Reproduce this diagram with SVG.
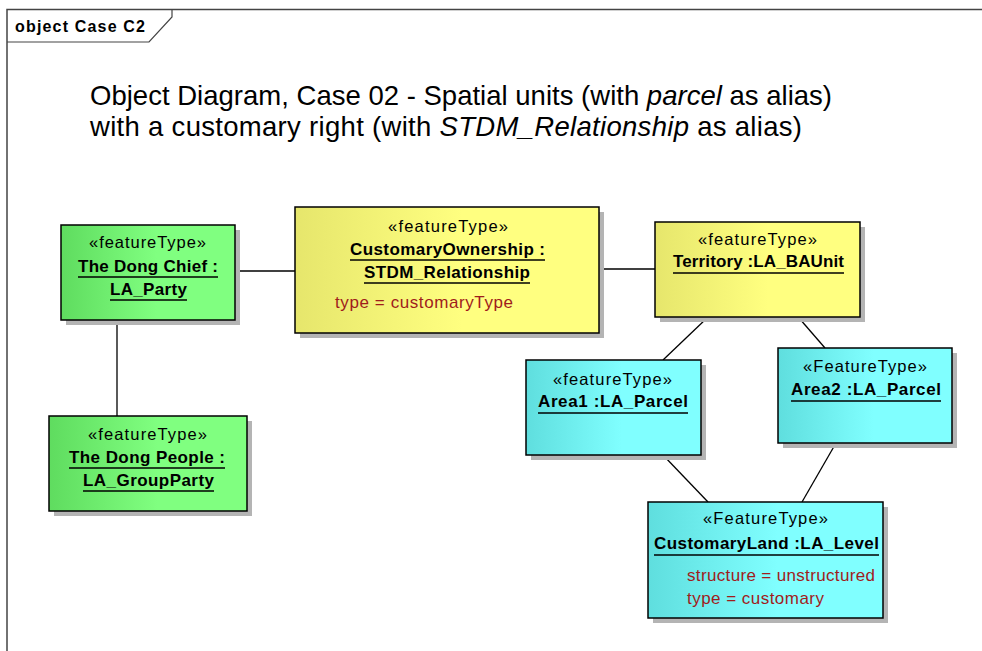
<svg xmlns="http://www.w3.org/2000/svg" width="982" height="651" viewBox="0 0 982 651">
  <style>
    text { font-family: "Liberation Sans", Arial, sans-serif; fill: #000; }
    .stereo { font-size: 16.5px; }
    .name { font-size: 17px; font-weight: bold; }
    .attr { font-size: 17px; fill: #a01c1c; }
    .title { font-size: 27.5px; }
    .frame-label { font-size: 16px; font-weight: bold; }
    .box { stroke: #000; stroke-width: 1.5; }
    .shadow { fill: #b4b4b4; }
    .uline { stroke: #000; stroke-width: 1.4; }
    .conn line { stroke: #000; stroke-width: 1.3; }
  </style>
  <defs>
    <linearGradient id="gGreen" x1="0" y1="0" x2="1" y2="0">
      <stop offset="0" stop-color="#5fdc5f"/>
      <stop offset="0.55" stop-color="#80ff80"/>
      <stop offset="1" stop-color="#80ff80"/>
    </linearGradient>
    <linearGradient id="gYellow" x1="0" y1="0" x2="1" y2="0">
      <stop offset="0" stop-color="#e6e66c"/>
      <stop offset="0.55" stop-color="#ffff80"/>
      <stop offset="1" stop-color="#ffff80"/>
    </linearGradient>
    <linearGradient id="gCyan" x1="0" y1="0" x2="1" y2="0">
      <stop offset="0" stop-color="#5fdede"/>
      <stop offset="0.55" stop-color="#80ffff"/>
      <stop offset="1" stop-color="#80ffff"/>
    </linearGradient>
  </defs>

  <rect width="982" height="651" fill="#fff"/>

  <!-- diagram frame -->
  <g id="frame">
    <path d="M7 651 V9.5 H982" fill="none" stroke="#444" stroke-width="1.5"/>
    <path d="M7 42 H149 L172 17 V9.5" fill="none" stroke="#444" stroke-width="1.2"/>
    <text class="frame-label" x="15" y="32" textLength="130" lengthAdjust="spacing">object Case C2</text>
  </g>

  <!-- heading -->
  <g id="heading">
    <text class="title" x="90" y="105" textLength="742" lengthAdjust="spacing">Object Diagram, Case 02 - Spatial units (with <tspan font-style="italic">parcel</tspan> as alias)</text>
    <text class="title" x="90" y="136" textLength="712" lengthAdjust="spacing">with a customary right (with <tspan font-style="italic">STDM_Relationship</tspan> as alias)</text>
  </g>

  <!-- connectors -->
  <g id="connectors" class="conn">
    <line x1="235" y1="271" x2="295" y2="271"/>
    <line x1="599" y1="269" x2="655" y2="269"/>
    <line x1="117" y1="320" x2="117" y2="416"/>
    <line x1="707" y1="318" x2="663" y2="360"/>
    <line x1="799" y1="318" x2="825" y2="348"/>
    <line x1="663" y1="455" x2="708" y2="502"/>
    <line x1="836" y1="443" x2="802" y2="502"/>
  </g>

  <!-- The Dong Chief -->
  <g id="dongChief">
    <rect class="shadow" x="66" y="230" width="174" height="95"/>
    <rect class="box" x="61" y="225" width="174" height="95" fill="url(#gGreen)"/>
    <text class="stereo" x="89" y="248" textLength="117" lengthAdjust="spacing">«featureType»</text>
    <text class="name" x="78" y="272" textLength="140" lengthAdjust="spacing">The Dong Chief :</text>
    <line class="uline" x1="78" y1="277" x2="218" y2="277"/>
    <text class="name" x="110" y="295" textLength="77" lengthAdjust="spacing">LA_Party</text>
    <line class="uline" x1="110" y1="300" x2="187" y2="300"/>
  </g>

  <!-- The Dong People -->
  <g id="dongPeople">
    <rect class="shadow" x="54" y="421" width="198" height="95"/>
    <rect class="box" x="49" y="416" width="198" height="95" fill="url(#gGreen)"/>
    <text class="stereo" x="88" y="440" textLength="119" lengthAdjust="spacing">«featureType»</text>
    <text class="name" x="69" y="463" textLength="156" lengthAdjust="spacing">The Dong People :</text>
    <line class="uline" x1="69" y1="468" x2="225" y2="468"/>
    <text class="name" x="83" y="486" textLength="131" lengthAdjust="spacing">LA_GroupParty</text>
    <line class="uline" x1="83" y1="491" x2="214" y2="491"/>
  </g>

  <!-- CustomaryOwnership -->
  <g id="customaryOwnership">
    <rect class="shadow" x="300" y="212" width="304" height="126"/>
    <rect class="box" x="295" y="207" width="304" height="126" fill="url(#gYellow)"/>
    <text class="stereo" x="388" y="232" textLength="120" lengthAdjust="spacing">«featureType»</text>
    <text class="name" x="350" y="255" textLength="195" lengthAdjust="spacing">CustomaryOwnership :</text>
    <line class="uline" x1="350" y1="260" x2="545" y2="260"/>
    <text class="name" x="364" y="278" textLength="166" lengthAdjust="spacing">STDM_Relationship</text>
    <line class="uline" x1="364" y1="283" x2="530" y2="283"/>
    <text class="attr" x="335" y="308" textLength="178" lengthAdjust="spacing">type = customaryType</text>
  </g>

  <!-- Territory -->
  <g id="territory">
    <rect class="shadow" x="660" y="227" width="205" height="95"/>
    <rect class="box" x="655" y="222" width="205" height="95" fill="url(#gYellow)"/>
    <text class="stereo" x="698" y="245" textLength="119" lengthAdjust="spacing">«featureType»</text>
    <text class="name" x="673" y="267" textLength="171" lengthAdjust="spacing">Territory :LA_BAUnit</text>
    <line class="uline" x1="673" y1="273" x2="844" y2="273"/>
  </g>

  <!-- Area1 -->
  <g id="area1">
    <rect class="shadow" x="531" y="365" width="175" height="95"/>
    <rect class="box" x="526" y="360" width="175" height="95" fill="url(#gCyan)"/>
    <text class="stereo" x="553" y="385" textLength="119" lengthAdjust="spacing">«featureType»</text>
    <text class="name" x="538" y="407" textLength="150" lengthAdjust="spacing">Area1 :LA_Parcel</text>
    <line class="uline" x1="538" y1="413" x2="688" y2="413"/>
  </g>

  <!-- Area2 -->
  <g id="area2">
    <rect class="shadow" x="783" y="353" width="174" height="95"/>
    <rect class="box" x="778" y="348" width="174" height="95" fill="url(#gCyan)"/>
    <text class="stereo" x="803" y="372" textLength="124" lengthAdjust="spacing">«FeatureType»</text>
    <text class="name" x="791" y="395" textLength="150" lengthAdjust="spacing">Area2 :LA_Parcel</text>
    <line class="uline" x1="791" y1="401" x2="941" y2="401"/>
  </g>

  <!-- CustomaryLand -->
  <g id="customaryLand">
    <rect class="shadow" x="653" y="507" width="235" height="116"/>
    <rect class="box" x="648" y="502" width="235" height="116" fill="url(#gCyan)"/>
    <text class="stereo" x="703" y="524" textLength="125" lengthAdjust="spacing">«FeatureType»</text>
    <text class="name" x="654" y="549" textLength="225" lengthAdjust="spacing">CustomaryLand :LA_Level</text>
    <line class="uline" x1="654" y1="555" x2="879" y2="555"/>
    <text class="attr" x="687" y="581" textLength="188" lengthAdjust="spacing">structure = unstructured</text>
    <text class="attr" x="687" y="604" textLength="137" lengthAdjust="spacing">type = customary</text>
  </g>
</svg>
